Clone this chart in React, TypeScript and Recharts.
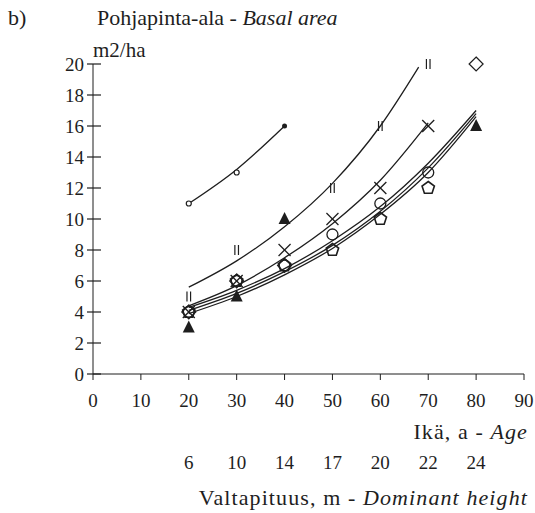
import React from 'react';
import { ComposedChart, Line, Scatter, XAxis, YAxis } from 'recharts';

// Ikä (a) ja sitä vastaava valtapituus (m)
const ages = [20, 30, 40, 50, 60, 70, 80];
const domHeights = [6, 10, 14, 17, 20, 22, 24];
const ageTicks = [0, 10, 20, 30, 40, 50, 60, 70, 80, 90];
const baTicks = [0, 2, 4, 6, 8, 10, 12, 14, 16, 18, 20];

// Tasoitetut käyrät
const curveTop = [
  { x: 20, y: 11 },
  { x: 30, y: 13.2 },
  { x: 40, y: 16 },
];
const curveII = [
  { x: 20, y: 5.6 },
  { x: 30, y: 7.3 },
  { x: 40, y: 9.5 },
  { x: 50, y: 12.3 },
  { x: 60, y: 16.0 },
  { x: 68, y: 19.8 },
];
const curveX = [
  { x: 20, y: 4.4 },
  { x: 30, y: 5.7 },
  { x: 40, y: 7.5 },
  { x: 50, y: 9.7 },
  { x: 60, y: 12.5 },
  { x: 70, y: 16.2 },
];
const curveLow1 = [
  { x: 20, y: 4.3 },
  { x: 30, y: 5.4 },
  { x: 40, y: 6.8 },
  { x: 50, y: 8.6 },
  { x: 60, y: 10.8 },
  { x: 70, y: 13.6 },
  { x: 80, y: 17.0 },
];
const curveLow2 = [
  { x: 20, y: 4.1 },
  { x: 30, y: 5.2 },
  { x: 40, y: 6.6 },
  { x: 50, y: 8.3 },
  { x: 60, y: 10.5 },
  { x: 70, y: 13.3 },
  { x: 80, y: 16.8 },
];
const curveLow3 = [
  { x: 20, y: 3.9 },
  { x: 30, y: 5.0 },
  { x: 40, y: 6.4 },
  { x: 50, y: 8.1 },
  { x: 60, y: 10.3 },
  { x: 70, y: 13.0 },
  { x: 80, y: 16.6 },
];

// Havainnot
const obsTopOpen = [{ x: 20, y: 11 }, { x: 30, y: 13 }];
const obsTopDot = [{ x: 40, y: 16 }];
const obsII = [{ x: 20, y: 5 }, { x: 30, y: 8 }, { x: 50, y: 12 }, { x: 60, y: 16 }, { x: 70, y: 20 }];
const obsTriangle = [{ x: 20, y: 3 }, { x: 30, y: 5 }, { x: 40, y: 10 }, { x: 80, y: 16 }];
const obsCross = [{ x: 20, y: 4 }, { x: 30, y: 6 }, { x: 40, y: 8 }, { x: 50, y: 10 }, { x: 60, y: 12 }, { x: 70, y: 16 }];
const obsCircle = [{ x: 20, y: 4 }, { x: 30, y: 6 }, { x: 40, y: 7 }, { x: 50, y: 9 }, { x: 60, y: 11 }, { x: 70, y: 13 }];
const obsPentagon = [{ x: 20, y: 4 }, { x: 30, y: 6 }, { x: 40, y: 7 }, { x: 50, y: 8 }, { x: 60, y: 10 }, { x: 70, y: 12 }];
const obsDiamond = [{ x: 20, y: 4 }, { x: 30, y: 6 }, { x: 40, y: 7 }, { x: 80, y: 20 }];

const INK = '#1e1e1e';
const FONT = '"Liberation Serif", "Times New Roman", serif';

const SmallCircle = ({ cx, cy }: any) => (
  <circle cx={cx} cy={cy} r={2.5} fill="#fff" stroke={INK} strokeWidth={1.2} />
);
const SmallDot = ({ cx, cy }: any) => <circle cx={cx} cy={cy} r={2.5} fill={INK} />;
const DoubleBar = ({ cx, cy }: any) => (
  <g stroke={INK} strokeWidth={1.2}>
    <line x1={cx - 1.8} y1={cy - 5} x2={cx - 1.8} y2={cy + 5} />
    <line x1={cx + 1.8} y1={cy - 5} x2={cx + 1.8} y2={cy + 5} />
  </g>
);
const Triangle = ({ cx, cy }: any) => (
  <polygon points={`${cx},${cy - 7} ${cx - 6},${cy + 5} ${cx + 6},${cy + 5}`} fill={INK} />
);
const Cross = ({ cx, cy }: any) => (
  <g stroke={INK} strokeWidth={1.3}>
    <line x1={cx - 6} y1={cy - 6} x2={cx + 6} y2={cy + 6} />
    <line x1={cx - 6} y1={cy + 6} x2={cx + 6} y2={cy - 6} />
  </g>
);
const OpenCircle = ({ cx, cy }: any) => (
  <circle cx={cx} cy={cy} r={5.5} fill="none" stroke={INK} strokeWidth={1.3} />
);
const Pentagon = ({ cx, cy }: any) => {
  const pts = [0, 1, 2, 3, 4]
    .map((i) => {
      const a = -Math.PI / 2 + (i * 2 * Math.PI) / 5;
      return `${cx + 6.5 * Math.cos(a)},${cy + 6.5 * Math.sin(a)}`;
    })
    .join(' ');
  return <polygon points={pts} fill="none" stroke={INK} strokeWidth={1.6} />;
};
const Diamond = ({ cx, cy }: any) => (
  <polygon
    points={`${cx},${cy - 7} ${cx + 7},${cy} ${cx},${cy + 7} ${cx - 7},${cy}`}
    fill="none"
    stroke={INK}
    strokeWidth={1.2}
  />
);

// Y-akselin jakoviiva menee akselin molemmin puolin
const YTick = ({ x, y, payload }: any) => (
  <g>
    <line x1={x + 4} y1={y} x2={x + 18} y2={y} stroke={INK} strokeWidth={1.2} />
    <text x={x + 1} y={y} dy={7} textAnchor="end" fontFamily={FONT} fontSize={19} fill={INK}>
      {payload.value}
    </text>
  </g>
);

// Alla kaksi riviä: ikä ja valtapituus
const AgeTick = ({ x, y, payload }: any) => {
  const i = ages.indexOf(payload.value);
  return (
    <g fontFamily={FONT} fontSize={19} fill={INK} textAnchor="middle">
      <text x={x} y={y} dy={25}>
        {payload.value}
      </text>
      {i >= 0 && (
        <text x={x} y={y} dy={87}>
          {domHeights[i]}
        </text>
      )}
    </g>
  );
};

const AxisTitles = ({ viewBox }: any) => {
  const right = viewBox.x + viewBox.width + 4;
  return (
    <g fontFamily={FONT} fontSize={22} fill={INK} textAnchor="end" letterSpacing={1.1}>
      <text x={right} y={viewBox.y + 65}>
        Ikä, a - <tspan fontStyle="italic">Age</tspan>
      </text>
      <text x={right} y={viewBox.y + 131}>
        Valtapituus, m - <tspan fontStyle="italic">Dominant height</tspan>
      </text>
    </g>
  );
};

export default function App() {
  const line = (data: { x: number; y: number }[], key: string) => (
    <Line
      key={key}
      data={data}
      dataKey="y"
      type="monotone"
      stroke={INK}
      strokeWidth={1.3}
      dot={false}
      activeDot={false}
      isAnimationActive={false}
    />
  );

  return (
    <div style={{ position: 'absolute', left: 0, top: 0, width: 535, height: 513, background: '#fff' }}>
      <svg
        width={535}
        height={70}
        style={{ position: 'absolute', left: 0, top: 0 }}
        fontFamily={FONT}
        fill={INK}
      >
        <text x={8} y={25} fontSize={22}>
          b)
        </text>
        <text x={97} y={25} fontSize={22}>
          Pohjapinta-ala - <tspan fontStyle="italic">Basal area</tspan>
        </text>
        <text x={93} y={57} fontSize={21}>
          m2/ha
        </text>
      </svg>
      <ComposedChart width={535} height={513} margin={{ top: 64, right: 11, left: 0, bottom: 0 }}>
        <XAxis
          dataKey="x"
          type="number"
          domain={[0, 90]}
          ticks={ageTicks}
          tick={<AgeTick />}
          tickSize={6}
          stroke={INK}
          height={139}
          label={<AxisTitles />}
        />
        <YAxis
          type="number"
          domain={[0, 20]}
          ticks={baTicks}
          tick={<YTick />}
          tickLine={false}
          tickSize={6}
          tickMargin={4}
          stroke={INK}
          width={93}
        />
        {line(curveTop, 'top')}
        {line(curveII, 'ii')}
        {line(curveX, 'x')}
        {line(curveLow1, 'l1')}
        {line(curveLow2, 'l2')}
        {line(curveLow3, 'l3')}
        <Scatter data={obsTopOpen} dataKey="y" shape={<SmallCircle />} isAnimationActive={false} />
        <Scatter data={obsTopDot} dataKey="y" shape={<SmallDot />} isAnimationActive={false} />
        <Scatter data={obsII} dataKey="y" shape={<DoubleBar />} isAnimationActive={false} />
        <Scatter data={obsCross} dataKey="y" shape={<Cross />} isAnimationActive={false} />
        <Scatter data={obsCircle} dataKey="y" shape={<OpenCircle />} isAnimationActive={false} />
        <Scatter data={obsPentagon} dataKey="y" shape={<Pentagon />} isAnimationActive={false} />
        <Scatter data={obsDiamond} dataKey="y" shape={<Diamond />} isAnimationActive={false} />
        <Scatter data={obsTriangle} dataKey="y" shape={<Triangle />} isAnimationActive={false} />
      </ComposedChart>
    </div>
  );
}
